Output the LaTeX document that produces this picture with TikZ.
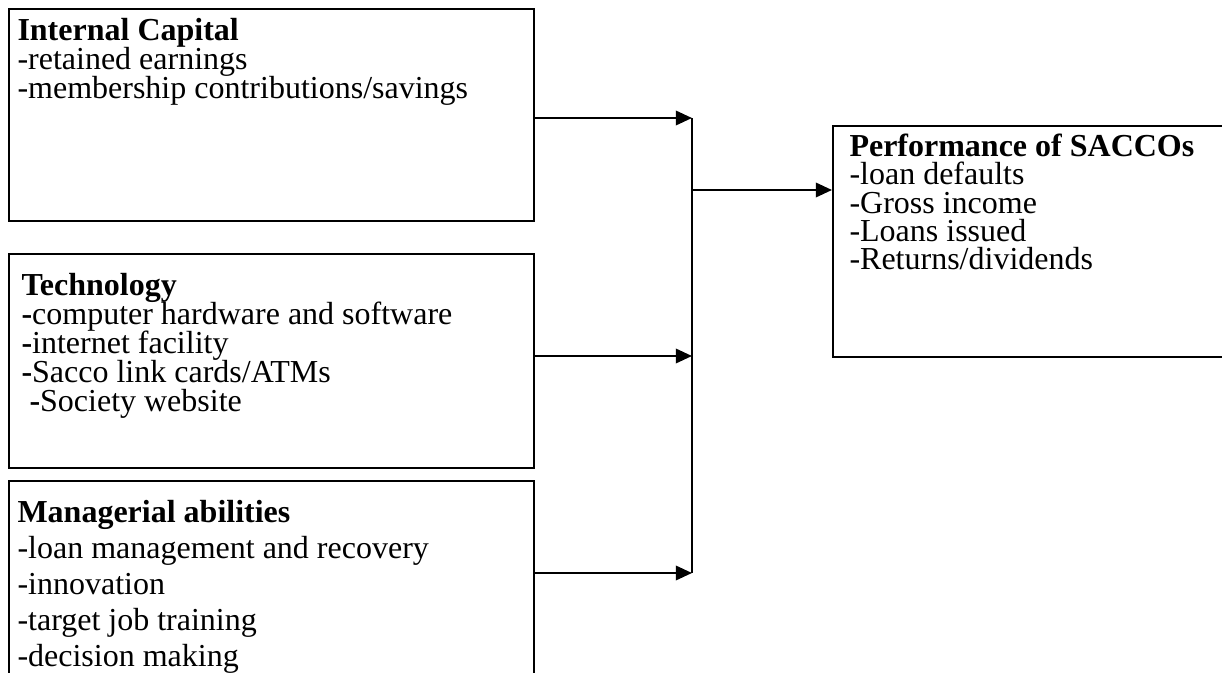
\documentclass[tikz,border=0pt]{standalone}
\usepackage{fontspec}
\setmainfont{Liberation Serif}
\usepackage{xcolor}
\usepackage{tikz}
\usetikzlibrary{positioning,arrows.meta}
\pgfdeclarelayer{nodelayer}
\pgfdeclarelayer{edgelayer}
\pgfsetlayers{main,nodelayer,edgelayer}
\newlength\pxu
\setlength\pxu{0.4pt}
\newcommand\tightskip{\lineskiplimit=-20pt\relax}
\tikzstyle{factor box}=[draw=black, line width=0.9pt, shape=rectangle, anchor=north west, inner sep=0pt]
\tikzstyle{factor text}=[align=left, inner sep=0pt, font=\fontsize{12.8}{11.6}\selectfont\tightskip]
\tikzstyle{perf text}=[align=left, inner sep=0pt, font=\fontsize{12.8}{11.3}\selectfont\tightskip]
\tikzstyle{wide text}=[align=left, inner sep=0pt, font=\fontsize{12.8}{14.4}\selectfont\tightskip]
\tikzstyle{flow_edge}=[-{Triangle[length=6.5pt,width=5.8pt]}, draw=black, line width=0.9pt]
\tikzstyle{join_edge}=[-, draw=black, line width=0.9pt]

\begin{document}
\begin{tikzpicture}[x=0.4pt, y=-0.4pt]
        \useasboundingbox (0,0) rectangle (1222,673);
        \clip (0,0) rectangle (1222,673);
        \begin{pgfonlayer}{nodelayer}
            \node[style=factor box, minimum width=525\pxu, minimum height=212\pxu] (capital) at (8,8) {};
            \node[style=factor box, minimum width=525\pxu, minimum height=214\pxu] (tech) at (8,253) {};
            \node[style=factor box, minimum width=525\pxu, minimum height=240\pxu] (manage) at (8,480) {};
            \node[style=factor box, minimum width=420\pxu, minimum height=231\pxu] (perf) at (832,125) {};
            \node[style=factor text, below right=9.5\pxu and 9\pxu of capital.north west] (capital text)
                {\textbf{Internal Capital}\\-retained earnings\\-membership contributions/savings};
            \node[style=factor text, below right=19.5\pxu and 13\pxu of tech.north west] (tech text)
                {\textbf{Technology}\\\textbf{-}computer hardware and software\\\textbf{-}internet facility\\
                 \textbf{-}Sacco link cards/ATMs\\\hspace{0.25em}\textbf{-}Society website};
            \node[style=wide text, below right=19.5\pxu and 9\pxu of manage.north west] (manage text)
                {\textbf{Managerial abilities}\\-loan management and recovery\\-innovation\\
                 -target job training\\-decision making};
            \node[style=perf text, below right=8.5\pxu and 17\pxu of perf.north west] (perf text)
                {\textbf{Performance of SACCOs}\\-loan defaults\\-Gross income\\-Loans issued\\-Returns/dividends};
            \coordinate (j1) at (692,118);
            \coordinate (j2) at (692,356);
            \coordinate (j3) at (692,573);
            \coordinate (hub) at (692,190);
        \end{pgfonlayer}
        \begin{pgfonlayer}{edgelayer}
            \draw[style={flow_edge}] (capital.east |- j1) -- (j1);
            \draw[style={flow_edge}] (tech.east |- j2) -- (j2);
            \draw[style={flow_edge}] (manage.east |- j3) -- (j3);
            \draw[style={join_edge}] (j1) -- (j3);
            \draw[style={flow_edge}] (hub) -- (perf.west |- hub);
        \end{pgfonlayer}
    \end{tikzpicture}
\end{document}
